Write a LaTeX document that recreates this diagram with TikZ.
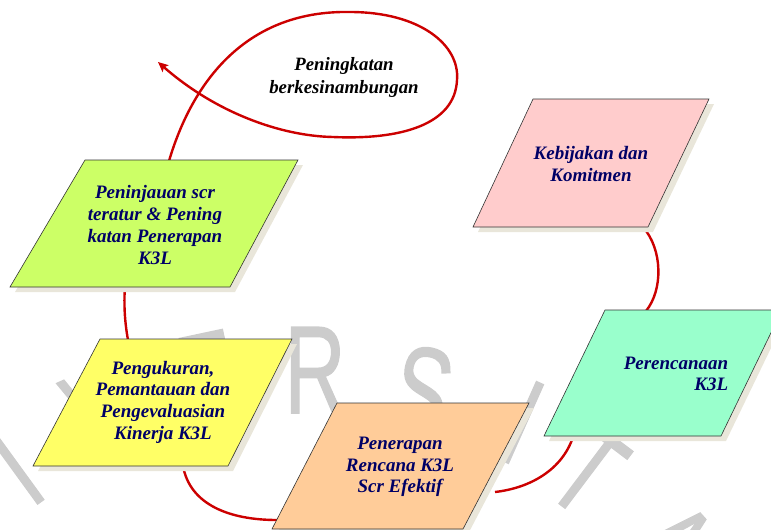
\documentclass[tikz,border=0pt]{standalone}
\usepackage{fontspec}
\setmainfont{Liberation Serif}
\newfontfamily\wmfont[FakeBold=1.2]{Liberation Sans}
\usetikzlibrary{arrows.meta}
\definecolor{boxgreen}{HTML}{CCFF66}
\definecolor{boxyellow}{HTML}{FFFF66}
\definecolor{boxorange}{HTML}{FFCC99}
\definecolor{boxpink}{HTML}{FFCCCC}
\definecolor{boxcyan}{HTML}{99FFCC}
\definecolor{navytext}{HTML}{000066}
\definecolor{loopred}{HTML}{CC0000}
\definecolor{shadowc}{HTML}{E9E6DA}
\definecolor{wmgray}{HTML}{CCCCCC}
\begin{document}
\begin{tikzpicture}[x=1pt,y=-1pt,
  boxshape/.style={draw=black!80,line width=0.6pt},
  shadowshape/.style={fill=shadowc},
  boxtext/.style={font=\bfseries\itshape\fontsize{19}{21.7}\selectfont,text=navytext,align=center,inner sep=0pt},
  redline/.style={draw=loopred,line width=2.4pt},
  wmletter/.style={font=\wmfont\fontsize{125}{125}\selectfont,text=wmgray,inner sep=0pt,anchor=north}]
\useasboundingbox (0,0) rectangle (771,530);
\clip (0,0) rectangle (771,530);
% watermark letters
\node[wmletter,rotate=36,xscale=0.68] (wm1) at (-10,432) {I};
\node[wmletter,rotate=24,xscale=0.68] (wm2) at (82,372) {V};
\node[wmletter,rotate=12,xscale=0.68] (wm3) at (200,334) {E};
\node[wmletter,xscale=0.68] (wm4) at (315,327) {R};
\node[wmletter,rotate=-13,xscale=0.68] (wm5) at (432,348) {S};
\node[wmletter,rotate=-24,xscale=0.68] (wm6) at (540,383) {I};
\node[wmletter,rotate=-37,xscale=0.68] (wm7) at (614,437) {T};
\node[wmletter,rotate=-48,xscale=0.68] (wm8) at (703,516) {A};
% connection points
\coordinate (gTop) at (169,161);
\coordinate (gBot) at (125,286);
\coordinate (yTop) at (128,340);
\coordinate (yBot) at (183,466);
\coordinate (oLeft) at (277,520);
\coordinate (oRight) at (495,492);
\coordinate (cBot) at (573,437);
\coordinate (cTop) at (646,311);
\coordinate (pBot) at (643,227);
\coordinate (loopEnd) at (158,62);
% connectors
\draw[redline] (pBot) .. controls (663,250) and (663,290) .. (cTop);
\draw[redline] (cBot) .. controls (562,470) and (530,488) .. (oRight);
\draw[redline] (yBot) .. controls (190,505) and (230,520) .. (oLeft);
\draw[redline] (yTop) .. controls (124,318) and (124,300) .. (gBot);
\draw[redline,-{Stealth[length=10pt,width=9pt,inset=2pt]}] (gTop)
  .. controls (190,90) and (240,10) .. (350,12)
  .. controls (420,12) and (460,45) .. (457,80)
  .. controls (455,125) and (400,140) .. (333,137)
  .. controls (280,136) and (215,112) .. (loopEnd);
% shadows
\fill[shadowc] (90,165) -- (303,165) -- (235,292) -- (15,292) -- cycle;
\fill[shadowc] (105,344) -- (297,344) -- (233,471) -- (38,471) -- cycle;
\fill[shadowc] (342,408) -- (534,408) -- (468,534) -- (277,534) -- cycle;
\fill[shadowc] (538,104) -- (714,104) -- (653,232) -- (478,232) -- cycle;
\fill[shadowc] (610,315) -- (787,315) -- (726,441) -- (549,441) -- cycle;
% boxes
\draw[boxshape,fill=boxgreen] (85,160) -- (298,160) -- (230,287) -- (10,287) -- cycle;
\draw[boxshape,fill=boxyellow] (100,339) -- (292,339) -- (228,466) -- (33,466) -- cycle;
\draw[boxshape,fill=boxorange] (337,403) -- (529,403) -- (463,529) -- (272,529) -- cycle;
\draw[boxshape,fill=boxpink] (533,99) -- (709,99) -- (648,227) -- (473,227) -- cycle;
\draw[boxshape,fill=boxcyan] (605,310) -- (782,310) -- (721,436) -- (544,436) -- cycle;
% texts
\node[boxtext] (gtext) at (155,225) {Peninjauan scr\\teratur \& Pening\\katan Penerapan\\K3L};
\node[boxtext] (ytext) at (163,402) {Pengukuran,\\Pemantauan dan\\Pengevaluasian\\Kinerja K3L};
\node[boxtext] (otext) at (400,467) {Penerapan\\Rencana K3L\\Scr Efektif};
\node[boxtext] (ptext) at (591,164) {Kebijakan dan\\Komitmen};
\node[boxtext,align=right] (ctext) at (676,374) {Perencanaan\\K3L};
\node[boxtext,text=black,font=\bfseries\itshape\fontsize{18.8}{23}\selectfont] (ltext) at (344,77) {Peningkatan\\berkesinambungan};
\end{tikzpicture}
\end{document}
